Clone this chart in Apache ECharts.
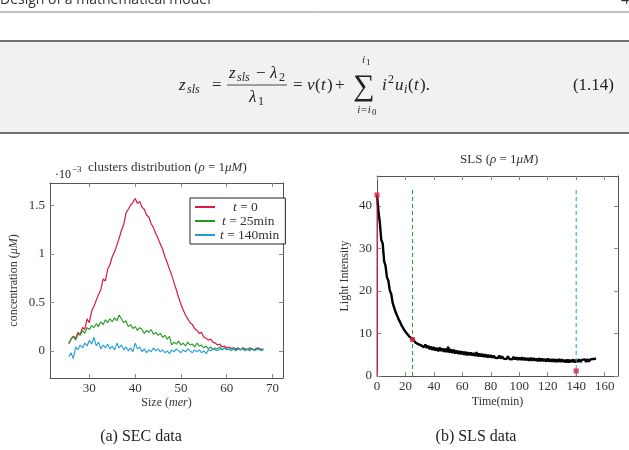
<!DOCTYPE html>
<html>
<head>
    <meta charset="utf-8">
    <title>SEC / SLS</title>
    <script src="https://cdn.jsdelivr.net/npm/echarts@6/dist/echarts.min.js"></script>
    <style>
        body { margin: 0; background: #fff; }
    </style>
</head>
<body>
    <div id="main" style="width: 629px;height:450px;"></div>

    <script type="text/javascript">

        // (a) SEC data, concentration in units of 1e-3 uM
        var secSize = [
            25.5, 26, 26.5, 27, 27.5, 28, 28.5, 29, 29.5, 30,
            30.5, 31, 31.5, 32, 32.5, 33, 33.5, 34, 34.5, 35,
            35.5, 36, 36.5, 37, 37.5, 38, 38.5, 39, 39.5, 40,
            40.5, 41, 41.5, 42, 42.5, 43, 43.5, 44, 44.5, 45,
            45.5, 46, 46.5, 47, 47.5, 48, 48.5, 49, 49.5, 50,
            50.5, 51, 51.5, 52, 52.5, 53, 53.5, 54, 54.5, 55,
            55.5, 56, 56.5, 57, 57.5, 58, 58.5, 59, 59.5, 60,
            60.5, 61, 61.5, 62, 62.5, 63, 63.5, 64, 64.5, 65,
            65.5, 66, 66.5, 67, 67.5, 68
        ];
        var secT0 = [
            0.08, 0.12, 0.15, 0.13, 0.19, 0.17, 0.24, 0.22, 0.33, 0.29,
            0.41, 0.46, 0.52, 0.58, 0.63, 0.74, 0.72, 0.84, 0.89, 0.97,
            1.02, 1.09, 1.16, 1.24, 1.30, 1.42, 1.46, 1.50, 1.53, 1.57,
            1.52, 1.54, 1.48, 1.46, 1.40, 1.38, 1.31, 1.27, 1.21, 1.16,
            1.10, 1.05, 0.97, 0.91, 0.84, 0.78, 0.70, 0.63, 0.55, 0.48,
            0.42, 0.37, 0.33, 0.29, 0.27, 0.23, 0.21, 0.18, 0.19, 0.14,
            0.13, 0.11, 0.12, 0.09, 0.08, 0.06, 0.07, 0.04, 0.05, 0.03,
            0.04, 0.02, 0.03, 0.02, 0.03, 0.01, 0.03, 0.02, 0.01, 0.03,
            0.02, 0.01, 0.02, 0.03, 0.01, 0.02
        ];
        var secT25 = [
            0.07, 0.12, 0.15, 0.11, 0.17, 0.16, 0.21, 0.18, 0.24, 0.22,
            0.26, 0.24, 0.28, 0.25, 0.30, 0.27, 0.32, 0.29, 0.33, 0.30,
            0.34, 0.31, 0.37, 0.33, 0.29, 0.31, 0.25, 0.27, 0.23, 0.25,
            0.21, 0.24, 0.22, 0.18, 0.21, 0.19, 0.22, 0.17, 0.19, 0.16,
            0.18, 0.14, 0.16, 0.12, 0.15, 0.06, 0.09, 0.07, 0.10, 0.06,
            0.08, 0.05, 0.09, 0.06, 0.07, 0.04, 0.08, 0.05, 0.06, 0.03,
            0.05, 0.02, 0.04, 0.01, 0.03, 0.02, 0.04, 0.01, 0.03, 0.02,
            0.01, 0.03, 0.02, 0.00, 0.02, 0.01, 0.03, 0.01, 0.02, 0.00,
            0.02, 0.01, 0.03, 0.01, 0.02, 0.01
        ];
        var secT140 = [
            -0.06, -0.02, -0.08, 0.04, 0.01, 0.06, 0.03, 0.08, 0.05, 0.11,
            0.07, 0.14, 0.05, 0.09, 0.02, 0.06, 0.03, 0.07, 0.02, 0.05,
            0.01, 0.08, 0.03, 0.06, 0.01, 0.04, 0.00, 0.03, -0.01, 0.08,
            0.02, 0.04, -0.01, 0.02, -0.02, 0.01, -0.01, 0.03, 0.00, 0.02,
            -0.01, 0.01, -0.02, 0.00, -0.03, 0.01, -0.01, 0.02, 0.00, -0.02,
            0.01, -0.01, 0.02, 0.00, -0.02, 0.01, -0.01, 0.01, -0.02, 0.00,
            -0.03, 0.01, 0.00, 0.02, 0.01, 0.00, 0.02, 0.01, 0.03, 0.01,
            0.02, 0.00, 0.02, 0.01, 0.03, 0.01, 0.02, 0.00, 0.02, 0.01,
            0.02, 0.00, 0.01, 0.02, 0.00, 0.01
        ];
        var secNames = ['t = 0', 't = 25min', 't = 140min'];
        var secTicksX = [30, 40, 50, 60, 70];
        var secTicksY = [0, 0.5, 1, 1.5];

        // (b) SLS data
        var slsTime = [
            0, 1, 2, 3, 4, 5, 6, 7, 8, 9,
            10, 11, 12, 13, 14, 15, 16, 17, 18, 19,
            20, 21, 22, 23, 24, 25, 26, 27, 28, 29,
            30, 31, 32, 33, 34, 35, 36, 37, 38, 39,
            40, 41, 42, 43, 44, 45, 46, 47, 48, 49,
            50, 51, 52, 53, 54, 55, 56, 57, 58, 59,
            60, 61, 62, 63, 64, 65, 66, 67, 68, 69,
            70, 71, 72, 73, 74, 75, 76, 77, 78, 79,
            80, 81, 82, 83, 84, 85, 86, 87, 88, 89,
            90, 91, 92, 93, 94, 95, 96, 97, 98, 99,
            100, 101, 102, 103, 104, 105, 106, 107, 108, 109,
            110, 111, 112, 113, 114, 115, 116, 117, 118, 119,
            120, 121, 122, 123, 124, 125, 126, 127, 128, 129,
            130, 131, 132, 133, 134, 135, 136, 137, 138, 139,
            140, 141, 142, 143, 144, 145, 146, 147, 148, 149,
            150, 151, 152, 153, 154
        ];
        var slsIntensity = [
            42.6, 38.8, 36.1, 32.0, 31.2, 27.0, 25.9, 23.2, 22.4, 20.1,
            19.3, 17.2, 17.0, 15.1, 14.9, 13.5, 13.4, 12.1, 12.2, 10.9,
            11.0, 10.0, 10.3, 9.2, 9.3, 8.6, 8.8, 7.9, 8.3, 7.5,
            7.9, 7.2, 7.6, 6.8, 7.4, 6.6, 7.1, 6.3, 6.9, 6.1,
            6.8, 6.0, 6.6, 5.8, 6.7, 5.9, 6.5, 5.7, 6.4, 5.6,
            6.9, 5.5, 6.3, 5.4, 6.2, 5.3, 6.0, 5.2, 5.9, 5.1,
            5.8, 5.0, 5.7, 4.9, 5.6, 4.9, 5.5, 4.8, 5.4, 4.7,
            5.6, 4.6, 5.3, 4.6, 5.2, 4.5, 5.1, 4.4, 5.0, 4.4,
            4.9, 4.3, 4.8, 4.3, 4.7, 4.2, 4.8, 4.1, 4.6, 4.1,
            4.5, 4.0, 4.6, 4.0, 4.4, 3.9, 4.5, 3.9, 4.4, 3.8,
            4.3, 3.8, 4.4, 3.7, 4.3, 3.7, 4.2, 3.6, 4.3, 3.6,
            4.2, 3.6, 4.1, 3.5, 4.2, 3.5, 4.1, 3.5, 4.0, 3.4,
            4.1, 3.4, 4.0, 3.4, 4.0, 3.3, 3.9, 3.3, 4.0, 3.3,
            3.9, 3.3, 3.8, 3.2, 3.9, 3.2, 3.8, 3.3, 3.9, 3.2,
            3.8, 3.3, 3.9, 3.3, 3.8, 3.4, 3.9, 3.3, 4.0, 3.4,
            3.9, 3.5, 4.0, 3.6, 4.1
        ];
        var markTimes = [0, 25, 140];
        var markIntensity = [42.6, 8.6, 1.2];
        var guideTop = 44.5;
        var slsTicksX = [0, 20, 40, 60, 80, 100, 120, 140, 160];
        var slsTicksY = [0, 10, 20, 30, 40];

        var SERIF = '"Liberation Serif", "DejaVu Serif", serif';
        var RED = '#d81b45', GREEN = '#1f9a1f', BLUE = '#1e9ed8';

        function zip(xs, ys) {
            return xs.map(function (x, i) { return [x, ys[i]]; });
        }

        var richBase = {
            r: { fontFamily: SERIF, fontSize: 12, color: '#333' },
            i: { fontFamily: SERIF, fontSize: 12, color: '#333', fontStyle: 'italic' }
        };
        var richTitle = {
            r: { fontFamily: SERIF, fontSize: 13, color: '#333', fontWeight: 'normal' },
            i: { fontFamily: SERIF, fontSize: 13, color: '#333', fontWeight: 'normal', fontStyle: 'italic' }
        };

        function axisX(grid, min, max, ticks, pos, nameText, nameGap) {
            var bottom = pos === 'bottom';
            return {
                type: 'value', gridIndex: grid, position: pos, min: min, max: max,
                name: bottom ? nameText : '', nameLocation: 'middle', nameGap: nameGap,
                nameTextStyle: { rich: richBase },
                axisLine: { show: true, onZero: false, lineStyle: { color: '#555', width: 1 } },
                axisTick: { show: true, inside: true, length: 4, customValues: ticks, lineStyle: { color: '#888' } },
                axisLabel: { show: bottom, customValues: ticks, margin: 4, fontFamily: SERIF, fontSize: 13, color: '#333' },
                splitLine: { show: false }
            };
        }
        function axisY(grid, min, max, ticks, pos, nameText, nameGap) {
            var left = pos === 'left';
            return {
                type: 'value', gridIndex: grid, position: pos, min: min, max: max,
                name: left ? nameText : '', nameLocation: 'middle', nameGap: nameGap,
                nameTextStyle: { rich: richBase },
                axisLine: { show: true, onZero: false, lineStyle: { color: '#555', width: 1 } },
                axisTick: { show: true, inside: true, length: 4, customValues: ticks, lineStyle: { color: '#888' } },
                axisLabel: { show: left, customValues: ticks, margin: 5, fontFamily: SERIF, fontSize: 13, color: '#333' },
                splitLine: { show: false }
            };
        }

        // plain text pieces for the page (header, equation, captions)
        function txt(x, y, text, size, italic, align) {
            return {
                type: 'text', x: x, y: y, silent: true,
                style: {
                    text: text, fontFamily: SERIF, fontSize: size,
                    fontStyle: italic ? 'italic' : 'normal',
                    fill: '#222', align: align || 'left', verticalAlign: 'middle'
                }
            };
        }

        var page = [
            { type: 'text', x: 0, y: 7, style: { text: 'Design of a mathematical model', fontFamily: '"Open Sans", sans-serif', fontSize: 14, fill: '#333', verticalAlign: 'bottom' } },
            { type: 'text', x: 629, y: 7, style: { text: '4', fontFamily: '"Open Sans", sans-serif', fontSize: 14, fill: '#333', align: 'right', verticalAlign: 'bottom' } },
            { type: 'line', shape: { x1: 0, y1: 12, x2: 629, y2: 12 }, style: { stroke: '#666', lineWidth: 0.8 } },
            { type: 'rect', shape: { x: 0, y: 41, width: 629, height: 92 }, style: { fill: '#f1f1f1' } },
            { type: 'line', shape: { x1: 0, y1: 41, x2: 629, y2: 41 }, style: { stroke: '#444', lineWidth: 1.6 } },
            { type: 'line', shape: { x1: 0, y1: 133, x2: 629, y2: 133 }, style: { stroke: '#444', lineWidth: 1.6 } },
            // equation (1.14)
            txt(179, 86, 'z', 17, true),
            txt(187, 90, 'sls', 12, true),
            txt(212, 86, '=', 17, false),
            txt(229, 74, 'z', 17, true),
            txt(237, 78, 'sls', 12, true),
            txt(256, 74, '−', 17, false),
            txt(270, 74, 'λ', 17, true),
            txt(279, 78, '2', 12, false),
            { type: 'line', shape: { x1: 227, y1: 85, x2: 287, y2: 85 }, style: { stroke: '#222', lineWidth: 0.8 } },
            txt(249, 98, 'λ', 17, true),
            txt(258, 102, '1', 12, false),
            txt(293, 86, '=', 17, false),
            txt(307, 86, 'v', 17, true),
            txt(315, 86, '(', 17, false),
            txt(321, 86, 't', 17, true),
            txt(327, 86, ')', 17, false),
            txt(335, 86, '+', 17, false),
            txt(364, 87, '∑', 30, false, 'center'),
            txt(362, 60, 'i', 11, true),
            txt(366, 63, '1', 9, false),
            txt(364, 110, 'i=i', 11, true, 'center'),
            txt(372, 113, '0', 9, false),
            txt(382, 86, 'i', 17, true),
            txt(388, 80, '2', 12, false),
            txt(395, 86, 'u', 17, true),
            txt(404, 90, 'i', 12, true),
            txt(408, 86, '(', 17, false),
            txt(414, 86, 't', 17, true),
            txt(420, 86, ').', 17, false),
            txt(614, 86, '(1.14)', 17, false, 'right'),
            // scale factor of the left chart
            txt(55, 175, '·10', 12, false),
            txt(72, 170, '−3', 9, false),
            // captions
            txt(141, 437, '(a) SEC data', 16, false, 'center'),
            txt(476, 437, '(b) SLS data', 16, false, 'center')
        ];

        var legendRich = {
            s0: { width: 13, lineHeight: 15 },
            s1: { width: 2, lineHeight: 15 },
            s2: { width: 0, lineHeight: 15 },
            t: { fontFamily: SERIF, fontSize: 13.5, color: '#333', fontStyle: 'italic', lineHeight: 15 },
            r: { fontFamily: SERIF, fontSize: 13.5, color: '#333', lineHeight: 15 }
        };

        var myChart = echarts.init(document.getElementById('main'), null, { renderer: 'canvas' });

        var option = {
            backgroundColor: '#fff',
            animation: false,
            title: [{
                text: '{r|clusters distribution (}{i|ρ}{r| = 1}{i|μM}{r|)}',
                left: 83, top: 156,
                textStyle: { rich: richTitle }
            }, {
                text: '{r|SLS (}{i|ρ}{r| = 1}{i|μM}{r|)}',
                left: 455, top: 148,
                textStyle: { rich: richTitle }
            }],
            legend: {
                data: secNames,
                orient: 'vertical',
                left: 190, top: 198,
                icon: 'rect', itemWidth: 20, itemHeight: 2, itemGap: 0,
                padding: [2, 6, 2, 5],
                backgroundColor: '#fff', borderColor: '#222', borderWidth: 1, borderRadius: 0,
                formatter: function (name) {
                    var k = secNames.indexOf(name);
                    return '{s' + k + '|}{t|t}{r|' + name.slice(1) + '}';
                },
                textStyle: { rich: legendRich }
            },
            grid: [
                { left: 50, top: 183, width: 233, height: 195, show: false },
                { left: 377, top: 176, width: 241, height: 200, show: false }
            ],
            xAxis: [
                axisX(0, 21.4, 72.3, secTicksX, 'bottom', '{r|Size (}{i|mer}{r|)}', 19),
                axisX(0, 21.4, 72.3, secTicksX, 'top'),
                axisX(1, 0, 169.4, slsTicksX, 'bottom', '{r|Time(min)}', 20),
                axisX(1, 0, 169.4, slsTicksX, 'top')
            ],
            yAxis: [
                axisY(0, -0.28, 1.73, secTicksY, 'left', '{r|concentration (}{i|μM}{r|)}', 30),
                axisY(0, -0.28, 1.73, secTicksY, 'right'),
                axisY(1, 0, 47.06, slsTicksY, 'left', '{r|Light Intensity}', 26),
                axisY(1, 0, 47.06, slsTicksY, 'right')
            ],
            series: [
                { name: secNames[0], type: 'line', xAxisIndex: 0, yAxisIndex: 0, data: zip(secSize, secT0), showSymbol: false, color: RED, lineStyle: { width: 1.2, color: RED } },
                { name: secNames[1], type: 'line', xAxisIndex: 0, yAxisIndex: 0, data: zip(secSize, secT25), showSymbol: false, color: GREEN, lineStyle: { width: 1.1, color: GREEN } },
                { name: secNames[2], type: 'line', xAxisIndex: 0, yAxisIndex: 0, data: zip(secSize, secT140), showSymbol: false, color: BLUE, lineStyle: { width: 1.1, color: BLUE } },
                { name: 'SLS', type: 'line', xAxisIndex: 2, yAxisIndex: 2, data: zip(slsTime, slsIntensity), showSymbol: false, lineStyle: { width: 2.4, color: '#000' }, z: 3 },
                { name: 'guide0', type: 'line', xAxisIndex: 2, yAxisIndex: 2, data: [[markTimes[0], 0], [markTimes[0], markIntensity[0]]], showSymbol: false, lineStyle: { width: 1, color: RED }, z: 4 },
                { name: 'guide25', type: 'line', xAxisIndex: 2, yAxisIndex: 2, data: [[markTimes[1], 0], [markTimes[1], guideTop]], showSymbol: false, lineStyle: { width: 1, color: GREEN, type: [4, 3] }, z: 4 },
                { name: 'guide140', type: 'line', xAxisIndex: 2, yAxisIndex: 2, data: [[markTimes[2], 0], [markTimes[2], guideTop]], showSymbol: false, lineStyle: { width: 1, color: BLUE, type: [4, 3] }, z: 4 },
                { name: 'marks', type: 'scatter', xAxisIndex: 2, yAxisIndex: 2, data: zip(markTimes, markIntensity), symbol: 'rect', symbolSize: 5, itemStyle: { color: RED }, z: 5 }
            ],
            graphic: page
        };

        myChart.setOption(option);

    </script>
</body>
</html>
